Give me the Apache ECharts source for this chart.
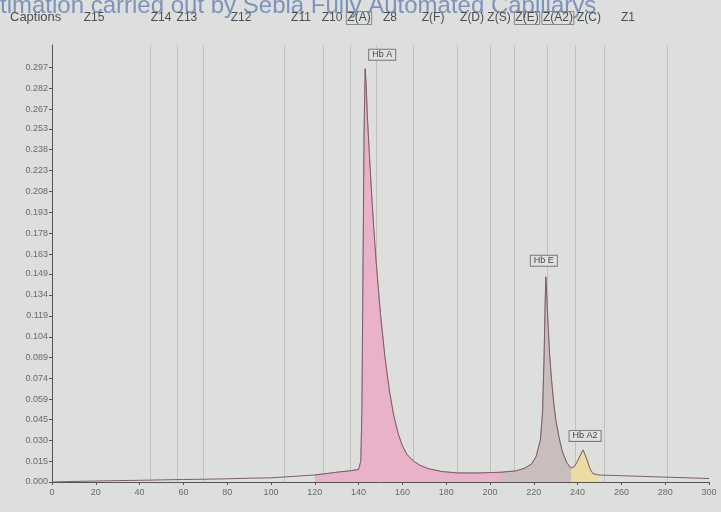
<!DOCTYPE html>
<html>
<head>
<meta charset="utf-8">
<script src="https://cdn.jsdelivr.net/npm/echarts@6/dist/echarts.min.js"></script>
<style>
html,body{margin:0;padding:0;background:#dcdfdb;}
#main{width:721px;height:512px;}
</style>
</head>
<body>
<div id="main"></div>
<script>
// electrophoresis curve (position, absorbance)
var curveX = [0, 10, 20, 30, 40, 50, 60, 70, 80, 90, 100, 110, 120, 130, 136, 140, 141, 141.5, 142, 142.5, 143, 143.5, 144, 145, 146, 147, 148, 150, 152, 154, 156, 158, 160, 162, 165, 168, 172, 178, 185, 195, 205, 212, 216, 219, 221, 223, 224, 224.7, 225.2, 225.5, 225.9, 226.5, 227.2, 228, 229, 230, 231.5, 233, 235, 237, 238.5, 240, 241.5, 242.5, 243.3, 244.3, 245.5, 247, 250, 260, 270, 280, 290, 300];
var curveY = [0.000, 0.0004, 0.0007, 0.001, 0.0012, 0.0015, 0.0018, 0.002, 0.0023, 0.0027, 0.003, 0.004, 0.005, 0.007, 0.008, 0.009, 0.015, 0.05, 0.15, 0.25, 0.296, 0.283, 0.262, 0.232, 0.205, 0.18, 0.158, 0.12, 0.09, 0.066, 0.048, 0.035, 0.026, 0.02, 0.015, 0.012, 0.0095, 0.0075, 0.0065, 0.0065, 0.007, 0.008, 0.010, 0.013, 0.018, 0.03, 0.05, 0.09, 0.13, 0.147, 0.135, 0.113, 0.092, 0.075, 0.058, 0.045, 0.032, 0.022, 0.014, 0.010, 0.011, 0.015, 0.020, 0.023, 0.022, 0.016, 0.01, 0.006, 0.005, 0.0045, 0.004, 0.0035, 0.003, 0.0025];

var fractionNames = ['Hb A', 'Hb E', 'Hb A2'];
var fractionStart = [118, 205, 237];
var fractionEnd = [205, 237, 250];
var fractionPeak = [143, 225.5, 242.5];

var zoneNames = ['Z15', 'Z14', 'Z13', 'Z12', 'Z11', 'Z10', 'Z(A)', 'Z8', 'Z(F)', 'Z(D)', 'Z(S)', 'Z(E)', 'Z(A2)', 'Z(C)', 'Z1'];
var zonePos = [19.2, 49.8, 61.6, 86.3, 113.7, 127.9, 140.2, 154.3, 174, 191.8, 204.1, 216.9, 231, 245.2, 263];
var zoneBoxed = ['Z(A)', 'Z(E)', 'Z(A2)'];
var zoneBounds = [45, 57, 69, 106, 124, 136, 148, 165, 185, 200, 211, 226, 239, 252, 281];

var yTickLabels = ['0.000', '0.015', '0.030', '0.045', '0.059', '0.074', '0.089', '0.104', '0.119', '0.134', '0.149', '0.163', '0.178', '0.193', '0.208', '0.223', '0.238', '0.253', '0.267', '0.282', '0.297'];

var chart = echarts.init(document.getElementById('main'));

function pairs(from, to) {
    var out = [];
    for (var i = 0; i < curveX.length; i++) {
        if (curveX[i] >= from && curveX[i] <= to) out.push([curveX[i], curveY[i]]);
    }
    return out;
}
function peakY(x) {
    return curveY[curveX.indexOf(x)];
}

var fillColors = ['#e8b2c9', '#c9bdbd', '#ecdba2'];
var edgeColors = ['#d48aad', '#a8989a', '#d8c27a'];
var labelOffsets = [[17, -14], [-2, -16], [2, -14]];

// zone separators sit behind everything
var series = [{
    type: 'line',
    data: [],
    silent: true,
    z: 1,
    markLine: {
        silent: true,
        z: 1,
        symbol: 'none',
        label: {show: false},
        lineStyle: {color: '#bfc2be', width: 1, type: 'solid'},
        data: zoneBounds.map(function (b) { return {xAxis: b}; })
    }
}, {
    type: 'line',
    data: pairs(0, 300),
    showSymbol: false,
    silent: true,
    z: 3,
    lineStyle: {color: '#7d5d6b', width: 1}
}];
fractionNames.forEach(function (name, i) {
    series.push({
        type: 'line',
        name: name,
        data: pairs(fractionStart[i], fractionEnd[i]),
        showSymbol: false,
        silent: true,
        z: 2,
        lineStyle: {color: edgeColors[i], width: 0.8},
        areaStyle: {color: fillColors[i], opacity: 1},
        markPoint: {
            symbol: 'circle',
            symbolSize: 1,
            itemStyle: {color: 'rgba(0,0,0,0)'},
            label: {
                show: true,
                position: 'inside',
                offset: labelOffsets[i],
                formatter: '{b}',
                fontSize: 9,
                color: '#444',
                borderColor: '#777',
                borderWidth: 1,
                padding: [1, 3, 0, 3],
                backgroundColor: '#dfe1de'
            },
            data: [{name: name, coord: [fractionPeak[i], peakY(fractionPeak[i])]}]
        }
    });
});

option = {
    backgroundColor: '#dcdfdb',
    animation: false,
    grid: {left: 52, right: 12, top: 45, bottom: 30},
    xAxis: {
        type: 'value',
        min: 0,
        max: 300,
        interval: 20,
        splitLine: {show: false},
        axisLine: {lineStyle: {color: '#555', width: 1}},
        axisTick: {length: 3, lineStyle: {color: '#555'}},
        axisLabel: {fontSize: 9, color: '#6a6a6a', margin: 6}
    },
    yAxis: {
        type: 'value',
        min: 0,
        max: 0.313,
        splitLine: {show: false},
        axisLine: {show: true, lineStyle: {color: '#555', width: 1}},
        axisTick: {show: true, length: 3, lineStyle: {color: '#555'}, customValues: yTickLabels.map(Number)},
        axisLabel: {
            fontSize: 9,
            color: '#6a6a6a',
            margin: 4,
            customValues: yTickLabels.map(Number),
            formatter: function (v) { return v.toFixed(3); }
        }
    },
    series: series
};

chart.setOption(option);

var texts = [{
    type: 'text',
    left: 0,
    top: -6,
    style: {text: 'timation carried out by Sebia Fully Automated Capillarys', fontSize: 24, fill: '#7d92be', fontFamily: 'Liberation Sans'}
}, {
    type: 'text',
    left: 10,
    top: 11,
    style: {text: 'Captions', fontSize: 13, fill: '#4e4e4e', fontFamily: 'Liberation Sans'}
}];
zoneNames.forEach(function (z, i) {
    var px = chart.convertToPixel({xAxisIndex: 0}, zonePos[i]);
    var boxed = zoneBoxed.indexOf(z) >= 0;
    texts.push({
        type: 'text',
        x: px,
        y: 18,
        style: {
            text: z,
            fontSize: 12,
            fill: '#4e4e4e',
            fontFamily: 'Liberation Sans',
            align: 'center',
            verticalAlign: 'middle',
            borderColor: boxed ? '#888' : null,
            borderWidth: boxed ? 1 : 0,
            padding: boxed ? [1, 1, 0, 1] : 0
        }
    });
});
chart.setOption({graphic: texts});
</script>
</body>
</html>
